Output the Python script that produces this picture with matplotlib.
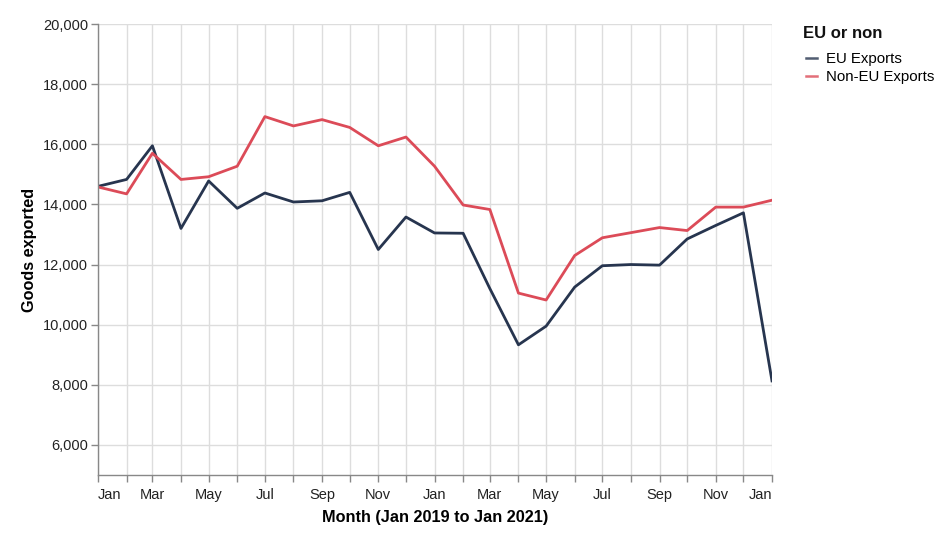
import matplotlib
matplotlib.use("Agg")
import matplotlib.pyplot as plt
import matplotlib.dates as mdates
from matplotlib.lines import Line2D
import pandas as pd

months = pd.date_range("2019-01-01", "2021-01-01", freq="MS")
eu_exports = [14600, 14830, 15950, 13200, 14780, 13870, 14380, 14080, 14120, 14400,
              12500, 13580, 13050, 13040, 11200, 9330, 9950, 11250, 11960, 12000,
              11980, 12850, 13300, 13720, 8130]
non_eu_exports = [14580, 14350, 15700, 14830, 14920, 15270, 16920, 16610, 16820, 16560,
                  15950, 16240, 15270, 13980, 13830, 11050, 10820, 12300, 12890, 13060,
                  13230, 13130, 13910, 13910, 14140]
series_names = ["EU Exports", "Non-EU Exports"]
legend_title = "EU or non"
colors = ["#27354f", "#dc4b58"]
y_ticks = list(range(6000, 20001, 2000))

plt.rcParams["font.family"] = ["Liberation Sans", "DejaVu Sans"]

fig = plt.figure(figsize=(9.53, 5.44), dpi=100)
ax = fig.add_axes([98 / 953, (544 - 475) / 544, 674 / 953, 451 / 544])

ax.plot(months, eu_exports, color=colors[0], lw=2.0, label=series_names[0])
ax.plot(months, non_eu_exports, color=colors[1], lw=2.0, label=series_names[1])

ax.set_xlim(months[0], months[-1])
ax.set_ylim(5000, 20000)
ax.set_yticks(y_ticks)
ax.yaxis.set_major_formatter(matplotlib.ticker.FuncFormatter(lambda v, p: f"{int(v):,}"))

ax.xaxis.set_major_locator(mdates.MonthLocator())
def fmt(x, pos):
    d = mdates.num2date(x)
    return d.strftime("%b") if d.month % 2 == 1 else ""
ax.xaxis.set_major_formatter(matplotlib.ticker.FuncFormatter(fmt))

ax.grid(True, color="#dddddd", lw=1)
ax.set_axisbelow(True)
for s in ["top", "right"]:
    ax.spines[s].set_visible(False)
for s in ["left", "bottom"]:
    ax.spines[s].set_color("#888888")
    ax.spines[s].set_linewidth(1)
ax.tick_params(axis="both", direction="out", length=5, width=1, color="#888888",
               labelsize=10.5, labelcolor="#222222")
ax.tick_params(axis="x", pad=12.5)
ax.tick_params(axis="y", pad=2)

fig.canvas.draw()
labels = ax.get_xticklabels()
for lab in labels:
    lab.set_verticalalignment("baseline")
labels[0].set_horizontalalignment("left")
labels[-1].set_horizontalalignment("right")

ax.set_xlabel("Month (Jan 2019 to Jan 2021)", fontsize=11.7, fontweight="bold", labelpad=5.6)
ax.set_ylabel("Goods exported", fontsize=11.7, fontweight="bold", labelpad=4.5)

handles = [Line2D([], [], color=c, lw=1.8, alpha=0.8) for c in colors]
leg = ax.legend(handles, series_names, loc="upper left",
                bbox_to_anchor=(806 / 953, 1 - 52 / 544),
                bbox_transform=fig.transFigure, frameon=False,
                fontsize=10.8, handlelength=0.75, handletextpad=0.6, labelspacing=0.28,
                borderaxespad=0, borderpad=0)
fig.text(803 / 953, 1 - 33 / 544, legend_title, fontsize=12, fontweight="bold",
         ha="left", va="center", color="#111111")

fig.savefig("out.png", dpi=100)
